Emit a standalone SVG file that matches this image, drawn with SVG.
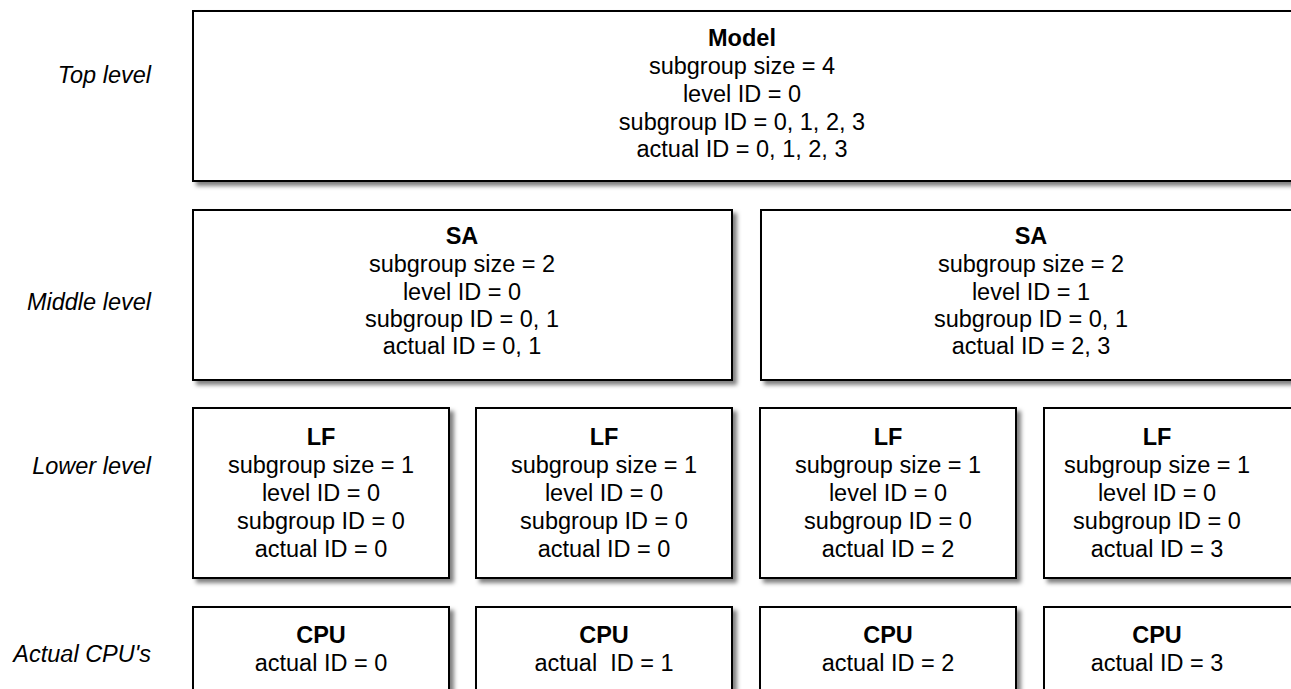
<svg xmlns="http://www.w3.org/2000/svg" width="1291" height="689" viewBox="0 0 1291 689">
  <defs>
    <filter id="shadow" x="-5%" y="-5%" width="115%" height="120%">
      <feDropShadow dx="4" dy="4" stdDeviation="2" flood-color="#000" flood-opacity="0.5"/>
    </filter>
    <style>
      .box { fill: #fff; stroke: #000; stroke-width: 2; filter: url(#shadow); }
      .t { font-family: "Liberation Sans", Arial, sans-serif; font-size: 23.5px; fill: #000; text-anchor: middle; white-space: pre; }
      .b { font-weight: bold; }
      .lbl { font-family: "Liberation Sans", Arial, sans-serif; font-size: 23.5px; font-style: italic; fill: #000; text-anchor: end; }
    </style>
  </defs>
  <rect width="1291" height="689" fill="#fff"/>

  <!-- level labels -->
  <g id="labels">
    <text class="lbl" x="151" y="83">Top level</text>
    <text class="lbl" x="151" y="310">Middle level</text>
    <text class="lbl" x="151" y="474">Lower level</text>
    <text class="lbl" x="151" y="662">Actual CPU's</text>
  </g>

  <!-- top level -->
  <g id="model">
    <rect class="box" x="193" y="11" width="1110" height="170"/>
    <text class="t b" x="742" y="46">Model</text>
    <text class="t" x="742" y="74">subgroup size = 4</text>
    <text class="t" x="742" y="102">level ID = 0</text>
    <text class="t" x="742" y="130">subgroup ID = 0, 1, 2, 3</text>
    <text class="t" x="742" y="157">actual ID = 0, 1, 2, 3</text>
  </g>

  <!-- middle level -->
  <g id="sa0">
    <rect class="box" x="193" y="210" width="539" height="170"/>
    <text class="t b" x="462" y="244">SA</text>
    <text class="t" x="462" y="272">subgroup size = 2</text>
    <text class="t" x="462" y="300">level ID = 0</text>
    <text class="t" x="462" y="327">subgroup ID = 0, 1</text>
    <text class="t" x="462" y="354">actual ID = 0, 1</text>
  </g>
  <g id="sa1">
    <rect class="box" x="761" y="210" width="550" height="170"/>
    <text class="t b" x="1031" y="244">SA</text>
    <text class="t" x="1031" y="272">subgroup size = 2</text>
    <text class="t" x="1031" y="300">level ID = 1</text>
    <text class="t" x="1031" y="327">subgroup ID = 0, 1</text>
    <text class="t" x="1031" y="354">actual ID = 2, 3</text>
  </g>

  <!-- lower level -->
  <g id="lf0">
    <rect class="box" x="193" y="408" width="256" height="170"/>
    <text class="t b" x="321" y="445">LF</text>
    <text class="t" x="321" y="473">subgroup size = 1</text>
    <text class="t" x="321" y="501">level ID = 0</text>
    <text class="t" x="321" y="529">subgroup ID = 0</text>
    <text class="t" x="321" y="557">actual ID = 0</text>
  </g>
  <g id="lf1">
    <rect class="box" x="476" y="408" width="256" height="170"/>
    <text class="t b" x="604" y="445">LF</text>
    <text class="t" x="604" y="473">subgroup size = 1</text>
    <text class="t" x="604" y="501">level ID = 0</text>
    <text class="t" x="604" y="529">subgroup ID = 0</text>
    <text class="t" x="604" y="557">actual ID = 0</text>
  </g>
  <g id="lf2">
    <rect class="box" x="760" y="408" width="256" height="170"/>
    <text class="t b" x="888" y="445">LF</text>
    <text class="t" x="888" y="473">subgroup size = 1</text>
    <text class="t" x="888" y="501">level ID = 0</text>
    <text class="t" x="888" y="529">subgroup ID = 0</text>
    <text class="t" x="888" y="557">actual ID = 2</text>
  </g>
  <g id="lf3">
    <rect class="box" x="1044" y="408" width="266" height="170"/>
    <text class="t b" x="1157" y="445">LF</text>
    <text class="t" x="1157" y="473">subgroup size = 1</text>
    <text class="t" x="1157" y="501">level ID = 0</text>
    <text class="t" x="1157" y="529">subgroup ID = 0</text>
    <text class="t" x="1157" y="557">actual ID = 3</text>
  </g>

  <!-- actual CPUs -->
  <g id="cpu0">
    <rect class="box" x="193" y="607" width="256" height="120"/>
    <text class="t b" x="321" y="643">CPU</text>
    <text class="t" x="321" y="671">actual ID = 0</text>
  </g>
  <g id="cpu1">
    <rect class="box" x="476" y="607" width="256" height="120"/>
    <text class="t b" x="604" y="643">CPU</text>
    <text class="t" x="604" y="671">actual  ID = 1</text>
  </g>
  <g id="cpu2">
    <rect class="box" x="760" y="607" width="256" height="120"/>
    <text class="t b" x="888" y="643">CPU</text>
    <text class="t" x="888" y="671">actual ID = 2</text>
  </g>
  <g id="cpu3">
    <rect class="box" x="1044" y="607" width="266" height="120"/>
    <text class="t b" x="1157" y="643">CPU</text>
    <text class="t" x="1157" y="671">actual ID = 3</text>
  </g>

  <!-- no connectors between the levels -->
  <g id="connectors"/>
</svg>
